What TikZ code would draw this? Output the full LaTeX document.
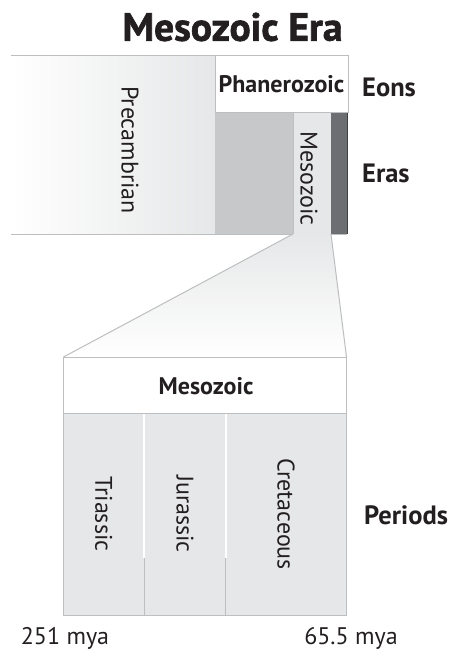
\documentclass[tikz,border=0pt]{standalone}
\usepackage{fontspec}
\setmainfont{PT Sans}
\newfontfamily\titlefont{PT Sans}[BoldFeatures={FakeBold=1.6}]
\usetikzlibrary{calc}
\begin{document}
\begin{tikzpicture}[x=1pt,y=-1pt,
  box/.style={rectangle,inner sep=0pt,outer sep=0pt,anchor=north west,draw=none},
  edge/.style={draw=linegray,line width=1pt},
  lbl/.style={inner sep=0pt,text=ink,font=\fontsize{24}{24}\selectfont},
  blbl/.style={inner sep=0pt,text=ink,font=\fontsize{24}{24}\selectfont\bfseries},
  side/.style={blbl,anchor=west,font=\fontsize{26.5}{26.5}\selectfont\bfseries}]
\definecolor{ink}{HTML}{231F20}
\definecolor{linegray}{HTML}{BCBEC0}
\definecolor{pale}{HTML}{E6E7E8}
\definecolor{mid}{HTML}{C7C8CA}
\definecolor{dark}{HTML}{6D6E71}
\definecolor{darkedge}{HTML}{404042}
\useasboundingbox (0,0) rectangle (451,650);

% title
\node[inner sep=0pt,text=ink,font=\fontsize{39.5}{39.5}\selectfont\titlefont\bfseries] (title) at (232.5,27) {Mesozoic Era};

% eons / eras band
\node[box,minimum width=204pt,minimum height=178pt,left color=white,right color=pale] (precam) at (11,56) {};
\node[box,minimum width=133pt,minimum height=57pt,fill=white,edge] (phan) at (215,56) {};
\node[box,minimum width=78pt,minimum height=121pt,fill=mid] (paleo) at (215,113) {};
\node[box,minimum width=38pt,minimum height=121pt,fill=pale] (meso) at (293,113) {};
\node[box,minimum width=16pt,minimum height=121pt,fill=dark] (ceno) at (331,113) {};
\draw[darkedge,line width=1pt] (ceno.north east) -- (ceno.south east);
\draw[edge] (precam.north west) -- (phan.north east);
\draw[edge] (precam.south west) -- (ceno.south east);
\draw[linegray,line width=0.6pt] (meso.north west) -- (meso.south west);

\node[lbl,rotate=-90] (precamtxt) at ($(precam.center)+(17,5)$) {Precambrian};
\node[blbl] (phantxt) at (phan.center) {Phanerozoic};
\node[lbl,rotate=-90] (mesotxt) at ($(meso.center)+(-3,5)$) {Mesozoic};

% expanded Mesozoic
\node[box,minimum width=283pt,minimum height=56pt,fill=white] (head) at (63.5,357) {};
\node[box,minimum width=80.5pt,minimum height=202pt,fill=pale] (tri) at (63.5,413) {};
\node[box,minimum width=81.7pt,minimum height=202pt,fill=pale] (jur) at (144,413) {};
\node[box,minimum width=120.8pt,minimum height=202pt,fill=pale] (cre) at (225.7,413) {};

% zoom wedge
\path[top color=pale,bottom color=white] (meso.south west) -- (ceno.south west) -- (head.north east) -- (head.north west) -- cycle;
\draw[edge] (meso.south west) -- (head.north west);
\draw[edge] (ceno.south west) -- (head.north east);

% period separators
\coordinate (s1) at ($(tri.north east)+(0,145)$);
\coordinate (s2) at ($(jur.north east)+(0,145)$);
\draw[white,line width=2pt] (tri.north east) -- (s1);
\draw[white,line width=2pt] (jur.north east) -- (s2);
\draw[linegray,line width=0.8pt] (s1) -- (tri.south east);
\draw[linegray,line width=0.8pt] (s2) -- (jur.south east);
\draw[edge] (head.north west) rectangle (cre.south east);
\draw[edge] (tri.north west) -- (cre.north east);

\node[blbl] (headtxt) at ($(head.center)+(1,1)$) {Mesozoic};
\node[lbl,rotate=-90] (tritxt) at (tri.center) {Triassic};
\node[lbl,rotate=-90] (jurtxt) at (jur.center) {Jurassic};
\node[lbl,rotate=-90] (cretxt) at (cre.center) {Cretaceous};

% side labels
\node[side] (eons) at (362,87) {Eons};
\node[side] (eras) at (362,173) {Eras};
\node[side] (periods) at (364,515) {Periods};

% dates
\node[lbl] (start) at (65,638) {251 mya};
\node[lbl] (end) at (351,638) {65.5 mya};
\end{tikzpicture}
\end{document}
